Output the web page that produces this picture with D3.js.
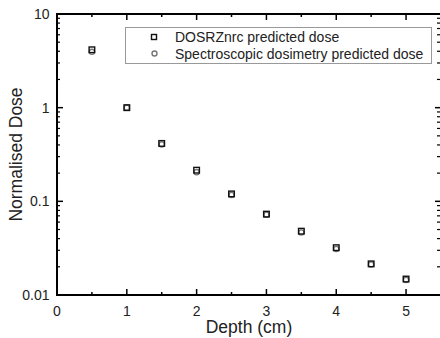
<!DOCTYPE html>
<html>
<head>
<meta charset="utf-8">
<script src="https://d3js.org/d3.v7.min.js"></script>
<style>
body { margin: 0; background: #fff; }
svg { display: block; }
text { font-family: "Liberation Sans", Arial, sans-serif; fill: #222; }
</style>
</head>
<body>
<script>
// depth (cm) and normalised doses
var depth = [0.5, 1, 1.5, 2, 2.5, 3, 3.5, 4, 4.5, 5];
var dosrz = [4.15, 1.0, 0.415, 0.215, 0.12, 0.073, 0.048, 0.032, 0.0215, 0.0148];
var spectro = [3.95, 1.0, 0.405, 0.205, 0.117, 0.072, 0.0465, 0.031, 0.0212, 0.0145];
var xTicks = [0, 1, 2, 3, 4, 5];
var yTicks = [0.01, 0.1, 1, 10];
var yTickLabels = ["0.01", "0.1", "1", "10"];
var legendLabels = ["DOSRZnrc predicted dose", "Spectroscopic dosimetry predicted dose"];

var W = 440, H = 338;
// plot box (note: "top" is reserved on window, so use p-prefixed names)
var pL = 57, pT = 14, pR = 442, pB = 295;

var svg = d3.select("body").append("svg")
  .attr("width", W).attr("height", H);

var x = d3.scaleLinear().domain([0, 5.515]).range([pL, pR]);
var y = d3.scaleLog().domain([0.01, 10]).range([pB, pT]);

// minor log ticks (2..9 in each decade)
var yMinor = [];
[0.01, 0.1, 1].forEach(function(d) {
  for (var k = 2; k <= 9; k++) yMinor.push(d * k);
});
var xMinor = [0.5, 1.5, 2.5, 3.5, 4.5];

var ax = svg.append("g").attr("stroke", "#000").attr("fill", "none");

// frame
ax.append("line").attr("x1", pL).attr("x2", pL).attr("y1", pT - 1).attr("y2", pB + 1).attr("stroke-width", 2);
ax.append("line").attr("x1", pL - 1).attr("x2", pR).attr("y1", pB).attr("y2", pB).attr("stroke-width", 2);
ax.append("line").attr("x1", pL - 1).attr("x2", pR).attr("y1", pT).attr("y2", pT).attr("stroke-width", 2);
ax.append("line").attr("x1", pR).attr("x2", pR).attr("y1", pT).attr("y2", pB).attr("stroke-width", 2);

// x ticks: bottom (up) and top (down)
xTicks.forEach(function(d) {
  if (d === 0) return;
  ax.append("line").attr("x1", x(d)).attr("x2", x(d)).attr("y1", pB).attr("y2", pB - 6).attr("stroke-width", 1.5);
  ax.append("line").attr("x1", x(d)).attr("x2", x(d)).attr("y1", pT).attr("y2", pT + 6).attr("stroke-width", 1.5);
});
xMinor.forEach(function(d) {
  ax.append("line").attr("x1", x(d)).attr("x2", x(d)).attr("y1", pB).attr("y2", pB - 3).attr("stroke-width", 1.5);
  ax.append("line").attr("x1", x(d)).attr("x2", x(d)).attr("y1", pT).attr("y2", pT + 3).attr("stroke-width", 1.5);
});

// y ticks: left (pointing right) and right (pointing left)
yTicks.forEach(function(d) {
  ax.append("line").attr("x1", pL).attr("x2", pL + 6).attr("y1", y(d)).attr("y2", y(d)).attr("stroke-width", 1.5);
  ax.append("line").attr("x1", pR).attr("x2", pR - 7).attr("y1", y(d)).attr("y2", y(d)).attr("stroke-width", 1.5);
});
yMinor.forEach(function(d) {
  ax.append("line").attr("x1", pL).attr("x2", pL + 3).attr("y1", y(d)).attr("y2", y(d)).attr("stroke-width", 1.2);
  ax.append("line").attr("x1", pR).attr("x2", pR - 5).attr("y1", y(d)).attr("y2", y(d)).attr("stroke-width", 1.2);
});

// tick labels
svg.append("g").selectAll("text").data(xTicks).join("text")
  .attr("x", function(d) { return x(d); })
  .attr("y", pB + 20.5)
  .attr("text-anchor", "middle")
  .attr("font-size", 14)
  .text(function(d) { return d; });

svg.append("g").selectAll("text").data(yTicks).join("text")
  .attr("x", pL - 7.5)
  .attr("y", function(d) { return y(d) + 5; })
  .attr("text-anchor", "end")
  .attr("font-size", 14)
  .text(function(d, i) { return yTickLabels[i]; });

// axis titles
svg.append("text")
  .attr("x", 249).attr("y", 333)
  .attr("text-anchor", "middle")
  .attr("font-size", 17.5)
  .text("Depth (cm)");

svg.append("text")
  .attr("transform", "translate(21.5," + ((pT + pB) / 2) + ") rotate(-90)")
  .attr("text-anchor", "middle")
  .attr("font-size", 17.5)
  .text("Normalised Dose");

// points: circles (grey) then squares (black)
svg.append("g").selectAll("circle").data(depth).join("circle")
  .attr("cx", function(d) { return x(d); })
  .attr("cy", function(d, i) { return y(spectro[i]); })
  .attr("r", 2.6)
  .attr("fill", "none")
  .attr("stroke", "#777")
  .attr("stroke-width", 1.4);

svg.append("g").selectAll("rect").data(depth).join("rect")
  .attr("x", function(d) { return x(d) - 2.8; })
  .attr("y", function(d, i) { return y(dosrz[i]) - 2.8; })
  .attr("width", 5.6).attr("height", 5.6)
  .attr("fill", "none")
  .attr("stroke", "#111")
  .attr("stroke-width", 1.4);

// legend
var lg = svg.append("g");
lg.append("rect")
  .attr("x", 125.5).attr("y", 27.5).attr("width", 306).attr("height", 36)
  .attr("fill", "#fff").attr("stroke", "#999").attr("stroke-width", 1);
lg.append("rect")
  .attr("x", 151.5).attr("y", 34.5).attr("width", 5).attr("height", 5)
  .attr("fill", "none").attr("stroke", "#111").attr("stroke-width", 1.4);
lg.append("circle")
  .attr("cx", 154.5).attr("cy", 53.5).attr("r", 2.5)
  .attr("fill", "none").attr("stroke", "#777").attr("stroke-width", 1.4);
legendLabels.forEach(function(t, i) {
  lg.append("text")
    .attr("x", 175).attr("y", 42 + i * 16.5)
    .attr("font-size", 14)
    .text(t);
});
</script>
</body>
</html>
